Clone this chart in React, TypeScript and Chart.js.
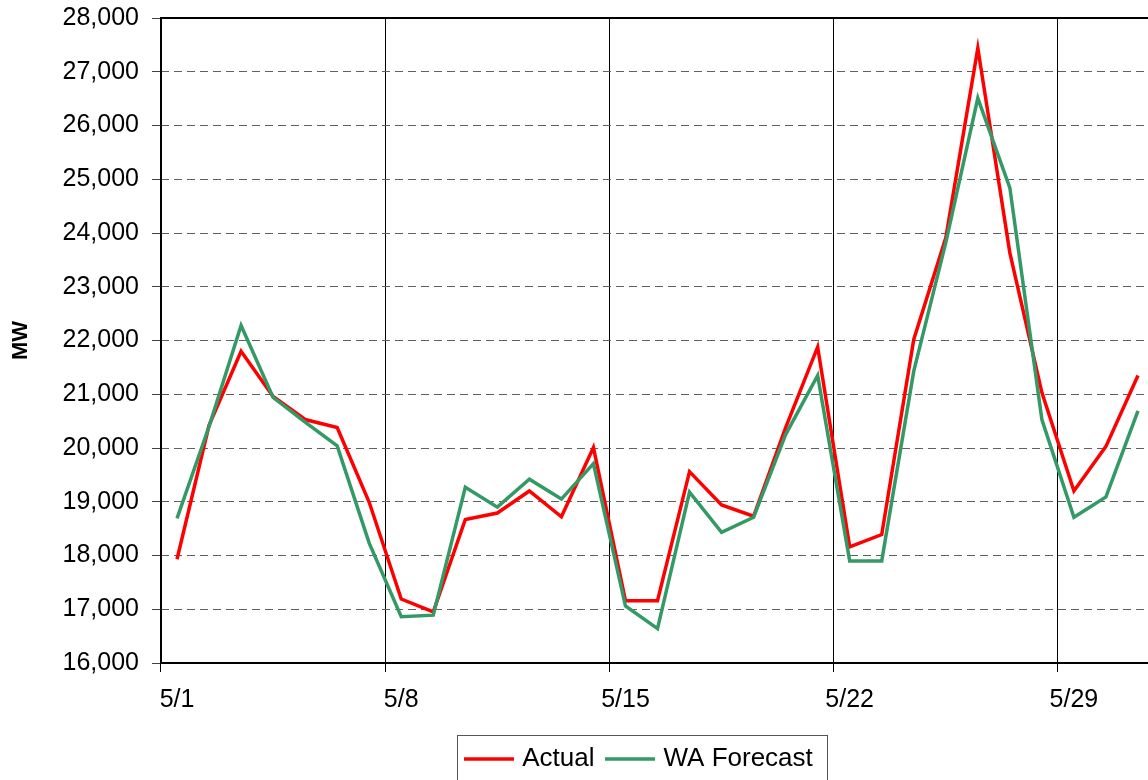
import React, { useEffect, useRef } from 'react';
import { Chart, registerables } from 'chart.js';

Chart.register(...registerables);

const dates = [
  '5/1', '5/2', '5/3', '5/4', '5/5', '5/6', '5/7', '5/8', '5/9', '5/10',
  '5/11', '5/12', '5/13', '5/14', '5/15', '5/16', '5/17', '5/18', '5/19', '5/20',
  '5/21', '5/22', '5/23', '5/24', '5/25', '5/26', '5/27', '5/28', '5/29', '5/30', '5/31',
];

const actual = [
  17930, 20420, 21800, 20960, 20530, 20380, 18990, 17190, 16950, 18670,
  18790, 19200, 18720, 20010, 17160, 17160, 19560, 18940, 18730, 20380,
  21880, 18160, 18390, 22020, 23910, 27440, 23630, 21030, 19200, 20030, 21350,
];

const forecast = [
  18690, 20400, 22280, 20940, 20480, 20040, 18230, 16860, 16890, 19270,
  18900, 19420, 19050, 19710, 17060, 16640, 19180, 18430, 18710, 20250,
  21350, 17900, 17900, 21430, 23820, 26510, 24840, 20530, 18710, 19090, 20690,
];

const seriesNames = ['Actual', 'WA Forecast'];
const seriesColors = ['#ff0000', '#339966'];
const yMin = 16000;
const yMax = 28000;
const yStep = 1000;
const labelEvery = 7;
const axisTitle = 'MW';

const FONT = "'Liberation Sans', Arial, sans-serif";
const LINE_W = 3.5;

function legendLine(color: string) {
  const c = document.createElement('canvas');
  c.width = 50;
  c.height = 4;
  const g = c.getContext('2d')!;
  g.fillStyle = color;
  g.fillRect(0, 0.25, 50, LINE_W);
  return c;
}

const framePlugin = {
  id: 'frame',
  afterDraw(chart: any) {
    const { ctx, chartArea } = chart;
    ctx.save();
    ctx.strokeStyle = '#000';
    ctx.lineWidth = 2;
    ctx.setLineDash([]);
    ctx.strokeRect(chartArea.left, chartArea.top, chartArea.right - chartArea.left, chartArea.bottom - chartArea.top);
    ctx.restore();
  },
};

const legendPlacePlugin = {
  id: 'legendPlace',
  afterLayout(chart: any) {
    const lg = chart.legend;
    if (!lg) return;
    const targetCenter = 641;
    const delta = targetCenter - (lg.left + lg.right) / 2;
    lg.left += delta;
    lg.right += delta;
    lg.top += 2;
    lg.bottom += 2;
  },
};

const legendBoxPlugin = {
  id: 'legendBox',
  afterDraw(chart: any) {
    const lg = chart.legend;
    if (!lg || !lg.legendHitBoxes || !lg.legendHitBoxes.length) return;
    const hb = lg.legendHitBoxes;
    let l = Infinity, r = -Infinity, cy = 0;
    hb.forEach((h: any) => {
      l = Math.min(l, h.left);
      r = Math.max(r, h.left + h.width);
      cy = h.top + h.height / 2;
    });
    const { ctx } = chart;
    const x0 = Math.round(l - 12) + 0.5;
    const x1 = Math.round(r + 14) + 0.5;
    const y0 = Math.round(cy - 24) + 0.5;
    ctx.save();
    ctx.strokeStyle = '#555';
    ctx.lineWidth = 1;
    ctx.setLineDash([]);
    ctx.strokeRect(x0, y0, x1 - x0, chart.height);
    ctx.restore();
  },
};

export default function App() {
  const ref = useRef<HTMLCanvasElement>(null);

  useEffect(() => {
    if (!ref.current) return;
    const gridOn = (c: any) => (c.index % labelEvery === 0 ? '#000000' : 'rgba(0,0,0,0)');
    const chart = new Chart(ref.current, {
      type: 'line',
      data: {
        labels: dates,
        datasets: [
          {
            label: seriesNames[0],
            data: actual,
            borderColor: seriesColors[0],
            backgroundColor: seriesColors[0],
            borderWidth: LINE_W,
            pointRadius: 0,
            pointStyle: legendLine(seriesColors[0]),
            tension: 0,
            order: 1,
          },
          {
            label: seriesNames[1],
            data: forecast,
            borderColor: seriesColors[1],
            backgroundColor: seriesColors[1],
            borderWidth: LINE_W,
            pointRadius: 0,
            pointStyle: legendLine(seriesColors[1]),
            tension: 0,
            order: 0,
          },
        ],
      },
      options: {
        responsive: false,
        animation: false,
        devicePixelRatio: 1,
        layout: { padding: { top: 18, right: 6, left: 0, bottom: 0 } },
        plugins: {
          tooltip: { enabled: false },
          legend: {
            position: 'bottom',
            labels: {
              usePointStyle: true,
              pointStyleWidth: 40,
              padding: 16,
              color: '#000',
              font: { family: FONT, size: 26 },
              sort: (a: any, b: any) => a.datasetIndex - b.datasetIndex,
            },
          },
        },
        scales: {
          x: {
            type: 'category',
            offset: true,
            grid: {
              offset: true,
              color: gridOn,
              tickColor: gridOn,
              lineWidth: 1,
              tickLength: 9,
            },
            border: { display: false },
            ticks: {
              autoSkip: false,
              maxRotation: 0,
              minRotation: 0,
              padding: 13,
              color: '#000',
              font: { family: FONT, size: 25 },
              callback: (_v: any, i: number) => (i % labelEvery === 0 ? dates[i] : ''),
            },
          },
          y: {
            min: yMin,
            max: yMax,
            afterFit: (s: any) => {
              s.width = 161;
              s.paddingTop = 0;
              s.paddingBottom = 0;
            },
            ticks: {
              stepSize: yStep,
              padding: 13,
              color: '#000',
              font: { family: FONT, size: 25 },
              callback: (v: any) => Number(v).toLocaleString('en-US'),
            },
            grid: {
              color: '#606060',
              tickColor: '#404040',
              tickLength: 9,
              lineWidth: 1,
            },
            border: { display: false, dash: [8, 5] },
            title: {
              display: true,
              text: axisTitle,
              color: '#000',
              font: { family: FONT, size: 22, weight: 'bold' },
              padding: { top: 8, bottom: 0 },
            },
          },
        },
      },
      plugins: [framePlugin, legendPlacePlugin, legendBoxPlugin],
    } as any);
    return () => chart.destroy();
  }, []);

  return (
    <div style={{ position: 'fixed', left: 0, top: 0, width: 1148, height: 780, overflow: 'hidden', background: '#fff' }}>
      <canvas ref={ref} width={1160} height={780} style={{ width: 1160, height: 780, display: 'block' }} />
    </div>
  );
}
